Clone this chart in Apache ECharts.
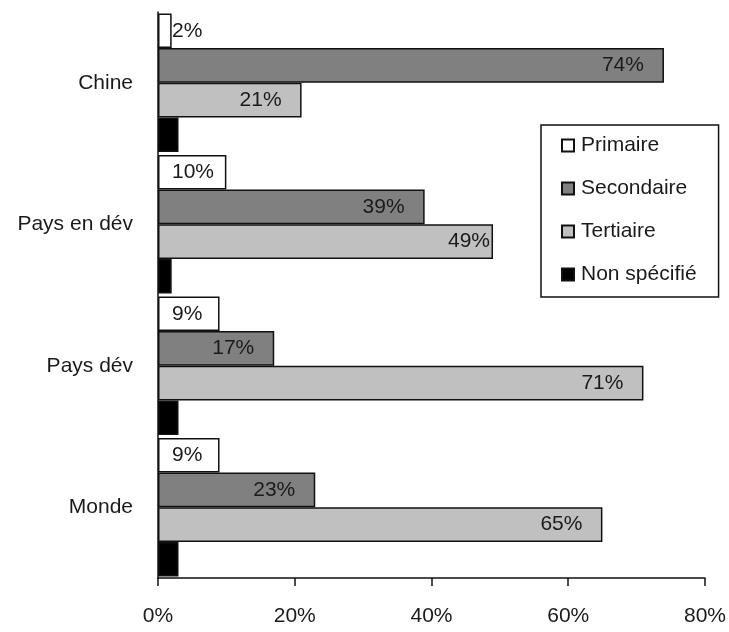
<!DOCTYPE html>
<html>
<head>
<meta charset="utf-8">
<script src="https://cdn.jsdelivr.net/npm/echarts@6/dist/echarts.min.js"></script>
<style>html,body{margin:0;padding:0;background:#fff;}#c{width:729px;height:632px;}</style>
</head>
<body>
<div id="c"></div>
<script>
const categories = ['Chine', 'Pays en dév', 'Pays dév', 'Monde'];
const seriesNames = ['Primaire', 'Secondaire', 'Tertiaire', 'Non spécifié'];
const primaire = [2, 10, 9, 9];
const secondaire = [74, 39, 17, 23];
const tertiaire = [21, 49, 71, 65];
const nonSpecifie = [3, 2, 3, 3];
const xTicks = [0, 20, 40, 60, 80];

const FONT = "'Liberation Sans', Arial, sans-serif";
const FS = 21;
const txt = '#1a1a1a';

function mkSeries(name, data, color, label) {
  return {
    name: name, type: 'bar', data: data,
    barGap: '0%', barCategoryGap: '2%',
    itemStyle: { color: color, borderColor: '#111', borderWidth: 1.5 },
    label: label,
    emphasis: { disabled: true }
  };
}
const lbl = (pos, dist) => ({ show: true, position: pos, distance: dist, formatter: '{c}%',
  color: txt, fontFamily: FONT, fontSize: FS });

const tertData = tertiaire.map((v, i) => i === 1
  ? { value: v, label: { distance: 3 } } : v);

const option = {
  animation: false,
  backgroundColor: '#fff',
  grid: { left: 158, right: 23, top: 12, bottom: 54, containLabel: false },
  xAxis: {
    type: 'value', min: xTicks[0], max: xTicks[xTicks.length - 1], interval: 20,
    axisLine: { show: true, lineStyle: { color: '#111', width: 1.5 } },
    axisTick: { show: true, length: 8, lineStyle: { color: '#111', width: 1.5 } },
    splitLine: { show: false },
    axisLabel: { formatter: '{value}%', margin: 28, color: txt, fontFamily: FONT, fontSize: FS }
  },
  yAxis: {
    type: 'category', data: categories, inverse: true,
    axisLine: { show: true, lineStyle: { color: '#111', width: 1.5 } },
    axisTick: { show: false },
    axisLabel: { margin: 25, color: txt, fontFamily: FONT, fontSize: FS }
  },
  legend: {
    orient: 'vertical', left: 541, top: 125,
    data: seriesNames,
    itemWidth: 12, itemHeight: 12, itemGap: 22,
    icon: 'rect',
    padding: [10, 22, 12, 20],
    borderColor: '#111', borderWidth: 1.5,
    backgroundColor: '#fff',
    textStyle: { color: txt, fontFamily: FONT, fontSize: FS, padding: [0, 0, 0, 2] }
  },
  series: [
    mkSeries(seriesNames[0], primaire, '#ffffff', lbl('insideLeft', 14)),
    mkSeries(seriesNames[1], secondaire, '#808080', lbl('insideRight', 20)),
    mkSeries(seriesNames[2], tertData, '#c0c0c0', lbl('insideRight', 20)),
    mkSeries(seriesNames[3], nonSpecifie, '#000000', { show: false })
  ]
};
const chart = echarts.init(document.getElementById('c'), null, { renderer: 'canvas' });
chart.setOption(option);
</script>
</body>
</html>
